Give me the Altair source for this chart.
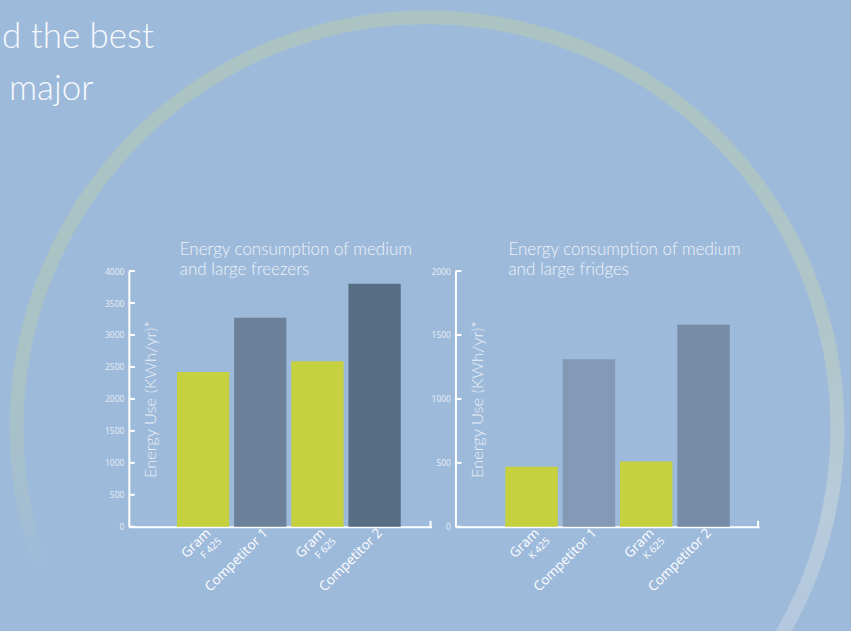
import altair as alt
import pandas as pd

# ---------------- data ----------------
headline = ["d the best", "major"]

left_keys = ["Gram F 425", "Competitor 1 (F)", "Gram F 625", "Competitor 2 (F)"]
left_main = ["Gram", "Competitor 1", "Gram", "Competitor 2"]
left_sub = ["F 425", "", "F 625", ""]
left_values = [2420, 3270, 2590, 3800]
left_ticks = [0, 500, 1000, 1500, 2000, 2500, 3000, 3500, 4000]
left_title = ["Energy consumption of medium", "and large freezers"]

right_keys = ["Gram K 425", "Competitor 1 (K)", "Gram K 625", "Competitor 2 (K)"]
right_main = ["Gram", "Competitor 1", "Gram", "Competitor 2"]
right_sub = ["K 425", "", "K 625", ""]
right_values = [470, 1310, 510, 1580]
right_ticks = [0, 500, 1000, 1500, 2000]
right_title = ["Energy consumption of medium", "and large fridges"]

y_title = "Energy Use (KWh/yr)*"

# ---------------- style ----------------
BG = "#9dbadb"
TXT = "#e9eff6"
GREEN = "#c5d13e"
left_colors = [GREEN, "#6b8099", GREEN, "#586e85"]
right_colors = [GREEN, "#8399b6", GREEN, "#768ca7"]
H = 256


def panel(keys, mains, subs, values, colors, ticks, ymax, title_lines, title_dx, W, align):
    df = pd.DataFrame({"key": keys, "main": mains, "sub": subs, "value": values})
    xs = alt.Scale(domain=keys, paddingInner=0.085, paddingOuter=0.69, align=align)
    ys = alt.Scale(domain=[0, ymax], nice=False, zero=True)
    xaxis = alt.Axis(title=None, labels=False, ticks=False, grid=False,
                     domainColor="white", domainWidth=2)
    yaxis = alt.Axis(values=ticks, orient="left", grid=False, ticks=False, format="d",
                     tickSize=0, labelPadding=5, labelFont="Open Sans",
                     labelFontSize=8.5, labelColor=TXT, labelOverlap=False,
                     domainColor="white", domainWidth=2,
                     title=y_title, titleX=22, titleY=128, titleAngle=270,
                     titleAlign="center", titleBaseline="middle",
                     titleFont="Lato", titleFontSize=16.5, titleFontWeight=300,
                     titleColor=TXT)
    base = alt.Chart(df)
    bars = base.mark_bar().encode(
        x=alt.X("key:N", scale=xs, sort=keys, axis=xaxis),
        y=alt.Y("value:Q", scale=ys, axis=yaxis),
        color=alt.Color("key:N", scale=alt.Scale(domain=keys, range=colors), legend=None),
    )
    tdf = pd.DataFrame({"t": ticks})
    tick_marks = alt.Chart(tdf).mark_rule(color="white", strokeWidth=2).encode(
        y=alt.Y("t:Q", scale=ys, axis=yaxis),
        x=alt.value(0),
        x2=alt.value(6),
    )
    end_tick = alt.Chart(tdf.head(1)).mark_rule(color="white", strokeWidth=2).encode(
        x=alt.value(W - 1), y=alt.value(H), y2=alt.value(H - 6)
    )
    main_lbl = base.mark_text(angle=315, align="right", baseline="middle", dx=1, dy=7,
                              font="Open Sans", fontSize=13.5, color="white").encode(
        x=alt.X("key:N", scale=xs, sort=keys, axis=xaxis),
        y=alt.value(H),
        text="main:N",
    )
    sub_lbl = base.mark_text(angle=315, align="right", baseline="middle", dx=3, dy=21,
                             font="Open Sans", fontSize=10, color="white").encode(
        x=alt.X("key:N", scale=xs, sort=keys, axis=xaxis),
        y=alt.value(H),
        text="sub:N",
    )
    return alt.layer(bars, tick_marks, end_tick, main_lbl, sub_lbl).properties(
        width=W, height=H,
        title=alt.TitleParams(text=title_lines, anchor="start", frame="group", dx=title_dx,
                              baseline="bottom", offset=-29, lineHeight=20.5,
                              font="Lato", fontSize=17, fontWeight=300, color="#edf2f8"),
    )


# ---------------- decoration panel (ring + headline) ----------------
ddf = pd.DataFrame({"a": [1]})
CX, CY = 323.5, 157
grad_right = alt.LinearGradient(
    gradient="linear", x1=0, x2=0, y1=0, y2=1,
    stops=[alt.GradientStop(offset=0, color="#abc3c2"),
           alt.GradientStop(offset=0.55, color="#b0c6ca"),
           alt.GradientStop(offset=0.8, color="#b8cbdc"),
           alt.GradientStop(offset=1, color="#b3c8df")])
grad_left = alt.LinearGradient(
    gradient="linear", x1=0, x2=0, y1=0, y2=1,
    stops=[alt.GradientStop(offset=0, color="#abc3c2"),
           alt.GradientStop(offset=0.6, color="#a9c2c5"),
           alt.GradientStop(offset=0.8, color="#a3bed3"),
           alt.GradientStop(offset=0.9, color=BG),
           alt.GradientStop(offset=1, color=BG)])
ring_r = alt.Chart(ddf).mark_arc(radius=418, radius2=404, theta=0, theta2=2.1,
                                 fill=grad_right, stroke=None).encode(
    x=alt.value(CX), y=alt.value(CY))
ring_l = alt.Chart(ddf).mark_arc(radius=418, radius2=404, theta=6.2832 - 2.1, theta2=6.2832,
                                 fill=grad_left, stroke=None).encode(
    x=alt.value(CX), y=alt.value(CY))
head1 = alt.Chart(ddf).mark_text(text=headline[0], align="left", baseline="alphabetic",
                                 font="Lato", fontSize=35, fontWeight=300, color="#f6f9fc").encode(
    x=alt.value(-102), y=alt.value(-223))
head2 = alt.Chart(ddf).mark_text(text=headline[1], align="left", baseline="alphabetic",
                                 font="Lato", fontSize=35, fontWeight=300, color="#f6f9fc").encode(
    x=alt.value(-95), y=alt.value(-171))
deco = alt.layer(ring_r, ring_l, head1, head2).properties(width=1, height=1)

left = panel(left_keys, left_main, left_sub, left_values, left_colors, left_ticks, 4000,
             left_title, 51, 303, 0.61)
right = panel(right_keys, right_main, right_sub, right_values, right_colors, right_ticks, 2000,
              right_title, 53, 304, 0.63)

chart = alt.hconcat(deco, left, right, spacing=24, bounds="flush").resolve_scale(
    color="independent", x="independent", y="independent"
).properties(
    background=BG,
    padding={"left": 2, "top": 10, "right": 6, "bottom": 0},
).configure_view(stroke=None).configure_axis(grid=False, labelOverlap=False)

chart.save("out.html", embed_options={"renderer": "svg", "actions": False})
